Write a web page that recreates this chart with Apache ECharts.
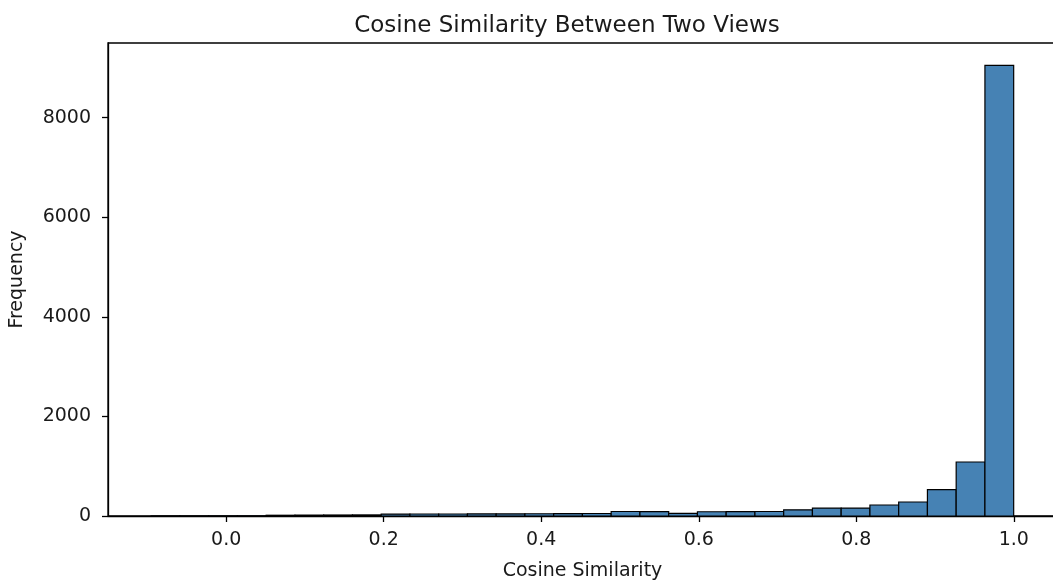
<!DOCTYPE html>
<html>
<head>
<meta charset="utf-8">
<script src="https://cdn.jsdelivr.net/npm/echarts@6/dist/echarts.min.js"></script>
<style>
  html, body { margin: 0; padding: 0; background: #fff; }
  #chart { width: 1053px; height: 582px; }
</style>
</head>
<body>
<div id="chart"></div>
<script>
// histogram: 30 bins, first edge and width
const binStart = -0.0952;
const binWidth = 0.0365;
const counts = [
  1, 1, 2, 3, 15, 18, 20, 22, 38, 40,
  40, 42, 42, 45, 48, 50, 90, 88, 52, 85,
  88, 90, 125, 160, 160, 221, 281, 528, 1085, 9050
];
const xTicks = [0.0, 0.2, 0.4, 0.6, 0.8, 1.0];
const yTicks = [0, 2000, 4000, 6000, 8000];

const bins = counts.map(function (c, i) {
  return [binStart + i * binWidth, binStart + (i + 1) * binWidth, c];
});

const chart = echarts.init(document.getElementById('chart'));
const txt = '#1a1a1a';
const font = 'DejaVu Sans';

chart.setOption({
  animation: false,
  backgroundColor: '#fff',
  title: {
    text: 'Cosine Similarity Between Two Views',
    left: 562,
    textAlign: 'center',
    top: 10,
    textStyle: { fontFamily: font, fontSize: 23, fontWeight: 'normal', color: txt }
  },
  grid: {
    left: 108, top: 43, width: 949, height: 473,
    outerBoundsMode: 'none',
    show: true, borderColor: '#000', borderWidth: 1.3
  },
  xAxis: {
    type: 'value',
    min: -0.15, max: 1.0548,
    name: 'Cosine Similarity',
    nameLocation: 'middle',
    nameGap: 46,
    nameTextStyle: { fontFamily: font, fontSize: 19, color: txt },
    splitLine: { show: false },
    axisLine: { show: true, onZero: false, lineStyle: { color: '#000', width: 1.3 } },
    axisTick: { show: true, length: 6, customValues: xTicks, lineStyle: { color: '#000', width: 1.3 } },
    axisLabel: {
      customValues: xTicks, margin: 15,
      fontFamily: font, fontSize: 19, color: txt,
      formatter: function (v) { return v.toFixed(1); }
    }
  },
  yAxis: {
    type: 'value',
    min: 0, max: 9500,
    name: 'Frequency',
    nameLocation: 'middle',
    nameGap: 81,
    nameTextStyle: { fontFamily: font, fontSize: 19, color: txt },
    splitLine: { show: false },
    axisLine: { show: true, onZero: false, lineStyle: { color: '#000', width: 1.3 } },
    axisTick: { show: true, length: 6, customValues: yTicks, lineStyle: { color: '#000', width: 1.3 } },
    axisLabel: {
      customValues: yTicks, margin: 17,
      fontFamily: font, fontSize: 19, color: txt,
      formatter: function (v) { return String(v); }
    }
  },
  series: [{
    type: 'custom',
    data: bins,
    encode: { x: [0, 1], y: 2 },
    renderItem: function (params, api) {
      const p0 = api.coord([api.value(0), api.value(2)]);
      const p1 = api.coord([api.value(1), 0]);
      return {
        type: 'rect',
        shape: { x: p0[0], y: p0[1], width: p1[0] - p0[0], height: p1[1] - p0[1] },
        style: { fill: '#4682b4', stroke: '#000', lineWidth: 1.2 }
      };
    }
  }]
});
</script>
</body>
</html>
